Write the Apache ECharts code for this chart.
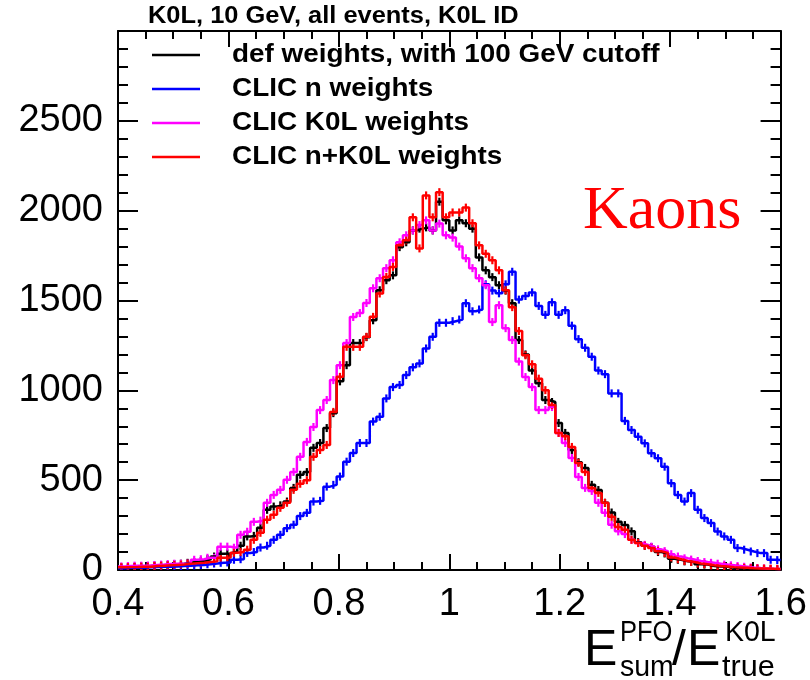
<!DOCTYPE html>
<html>
<head>
<meta charset="utf-8">
<script src="https://cdn.jsdelivr.net/npm/echarts@6/dist/echarts.min.js"></script>
<style>
html,body{margin:0;padding:0;background:#fff;}
#chart{width:810px;height:680px;}
</style>
</head>
<body>
<div id="chart"></div>
<script>
// Histogram: 100 bins of width 0.012 from 0.4 to 1.6
const binStart = 0.4;
const binWidth = 0.012;

const xTicks = [0.4, 0.6, 0.8, 1, 1.2, 1.4, 1.6];
const yTicks = [0, 500, 1000, 1500, 2000, 2500];

const seriesNames = [
  'def weights, with 100 GeV cutoff',
  'CLIC n weights',
  'CLIC K0L weights',
  'CLIC n+K0L weights'
];

// black: def weights
const defWeights = [
  15, 16, 18, 20, 22, 24, 26, 28, 32, 35,
  40, 45, 50, 60, 75, 90, 92, 103, 135, 187,
  190, 235, 335, 353, 360, 381, 457, 530, 545, 680,
  707, 790, 873, 1050, 1140, 1263, 1263, 1296, 1390, 1557,
  1613, 1640, 1797, 1824, 1890, 1900, 1907, 1890, 2050, 1946,
  1890, 1946, 1930, 1900, 1740, 1668, 1630, 1585, 1555, 1485,
  1280, 1200, 1110, 1040, 946, 935, 818, 763, 668, 600,
  568, 474, 445, 374, 320, 268, 250, 215, 155, 135,
  128, 100, 92, 62, 57, 48, 45, 32, 30, 22,
  20, 18, 12, 10, 8, 7, 5, 4, 4, 3
];

// blue: CLIC n weights
const nWeights = [
  10, 12, 12, 13, 15, 16, 18, 18, 20, 22,
  24, 26, 28, 32, 36, 40, 42, 57, 60, 95,
  100, 125, 135, 168, 196, 233, 252, 300, 318, 381,
  385, 464, 474, 520, 603, 651, 707, 707, 826, 853,
  955, 1018, 1030, 1085, 1128, 1150, 1233, 1298, 1376, 1376,
  1385, 1394, 1485, 1440, 1450, 1590, 1555, 1540, 1590, 1660,
  1505, 1525, 1545, 1470, 1420, 1490, 1420, 1446, 1360, 1285,
  1237, 1187, 1110, 1090, 983, 983, 830, 779, 742, 705,
  650, 622, 575, 483, 418, 381, 428, 335, 289, 261,
  214, 187, 168, 122, 113, 103, 94, 94, 57, 55
];

// magenta: CLIC K0L weights
const k0lWeights = [
  20, 22, 24, 24, 25, 28, 30, 33, 35, 35,
  36, 57, 60, 68, 68, 130, 130, 124, 196, 213,
  268, 275, 374, 418, 446, 502, 546, 630, 713, 796,
  890, 946, 1057, 1140, 1263, 1408, 1430, 1486, 1568, 1624,
  1680, 1724, 1824, 1863, 1890, 1920, 1946, 1890, 1928, 1863,
  1850, 1800, 1735, 1680, 1624, 1585, 1380, 1474, 1346, 1280,
  1160, 1074, 1018, 890, 890, 907, 763, 707, 624, 518,
  457, 440, 374, 318, 252, 215, 200, 168, 150, 140,
  130, 115, 105, 88, 75, 65, 58, 50, 44, 40,
  35, 30, 26, 22, 18, 14, 11, 9, 7, 6
];

// red: CLIC n+K0L weights
const nk0lWeights = [
  15, 16, 17, 18, 18, 22, 24, 26, 28, 30,
  35, 38, 40, 45, 48, 68, 70, 96, 100, 113,
  168, 207, 280, 307, 346, 374, 446, 480, 500, 630,
  668, 696, 880, 1075, 1242, 1242, 1242, 1298, 1409, 1539,
  1631, 1687, 1807, 1835, 1963, 1790, 2085, 1963, 2103, 1963,
  1990, 1990, 2017, 1930, 1807, 1760, 1724, 1668, 1557, 1463,
  1330, 1195, 1145, 1065, 1001, 918, 763, 745, 685, 596,
  546, 457, 429, 374, 296, 240, 224, 168, 150, 135,
  122, 105, 95, 70, 60, 50, 45, 36, 32, 26,
  22, 20, 16, 14, 12, 10, 9, 8, 7, 6
];

const colors = ['#000000', '#0000ff', '#ff00ff', '#ff0000'];
const allSeries = [defWeights, nWeights, k0lWeights, nk0lWeights];

function stepData(vals) {
  const d = vals.map((v, i) => [binStart + binWidth * i, v]);
  d.push([binStart + binWidth * vals.length, vals[vals.length - 1]]);
  return d;
}
function centerData(vals) {
  return vals.map((v, i) => [binStart + binWidth * (i + 0.5), v]);
}

const series = [];
allSeries.forEach((vals, si) => {
  series.push({
    name: seriesNames[si],
    type: 'line',
    step: 'end',
    data: stepData(vals),
    symbol: 'none',
    lineStyle: { color: colors[si], width: 2.5 },
    clip: true,
    animation: false,
    silent: true
  });
  series.push({
    type: 'custom',
    data: centerData(vals),
    clip: true,
    animation: false,
    silent: true,
    encode: { x: 0, y: 1 },
    renderItem: function (params, api) {
      const p = api.coord([api.value(0), api.value(1)]);
      return {
        type: 'line',
        shape: { x1: p[0], y1: p[1] - 4, x2: p[0], y2: p[1] + 4 },
        style: { stroke: colors[si], lineWidth: 2.2 }
      };
    }
  });
});

const FONT = '"Liberation Sans", Arial, Helvetica, sans-serif';

function fmtX(v) { return String(Math.round(v * 10) / 10); }

const axisLineStyle = { color: '#000', width: 2 };
const tickStyle = { color: '#000', width: 2 };

const option = {
  animation: false,
  backgroundColor: '#ffffff',
  grid: { left: 118, right: 28, top: 31, bottom: 110, containLabel: false },
  xAxis: [
    {
      type: 'value', min: 0.4, max: 1.6, interval: 0.2, position: 'bottom',
      axisLine: { show: true, onZero: false, lineStyle: axisLineStyle },
      axisTick: { show: true, inside: true, length: 16, lineStyle: tickStyle },
      minorTick: { show: true, splitNumber: 4, length: 8, lineStyle: tickStyle },
      axisLabel: {
        show: true, fontSize: 38, color: '#000', fontFamily: FONT, margin: 16,
        formatter: function (v) { return xTicks.indexOf(Math.round(v * 10) / 10) >= 0 ? fmtX(v) : ''; }
      },
      splitLine: { show: false }
    },
    {
      type: 'value', min: 0.4, max: 1.6, interval: 0.2, position: 'top',
      axisLine: { show: true, onZero: false, lineStyle: axisLineStyle },
      axisTick: { show: true, inside: true, length: 16, lineStyle: tickStyle },
      minorTick: { show: true, splitNumber: 4, length: 8, lineStyle: tickStyle },
      axisLabel: { show: false },
      splitLine: { show: false }
    }
  ],
  yAxis: [
    {
      type: 'value', min: 0, max: 3000, interval: 500, position: 'left',
      axisLine: { show: true, onZero: false, lineStyle: axisLineStyle },
      axisTick: { show: true, inside: true, length: 20, lineStyle: tickStyle },
      minorTick: { show: true, splitNumber: 5, length: 10, lineStyle: tickStyle },
      axisLabel: {
        show: true, fontSize: 38, color: '#000', fontFamily: FONT, margin: 15,
        showMaxLabel: false,
        formatter: function (v) { return yTicks.indexOf(Math.round(v)) >= 0 ? String(Math.round(v)) : ''; }
      },
      splitLine: { show: false }
    },
    {
      type: 'value', min: 0, max: 3000, interval: 500, position: 'right',
      axisLine: { show: true, onZero: false, lineStyle: axisLineStyle },
      axisTick: { show: true, inside: true, length: 20, lineStyle: tickStyle },
      minorTick: { show: true, splitNumber: 5, length: 10, lineStyle: tickStyle },
      axisLabel: { show: false },
      splitLine: { show: false }
    }
  ],
  series: series,
  graphic: []
};

function txt(text, x, y, font, fill, scaleX) {
  return {
    type: 'text', x: x, y: y, scaleX: scaleX || 1, z: 100,
    style: { text: text, fill: fill || '#000', font: font, textVerticalAlign: 'middle', verticalAlign: 'middle', textAlign: 'left', align: 'left' }
  };
}

// Title
option.graphic.push(txt('K0L, 10 GeV, all events, K0L ID', 148, 17, 'bold 23px ' + FONT, '#000', 1.105));

// Legend
const legendRows = [56, 90, 124, 158];
seriesNames.forEach((name, i) => {
  option.graphic.push({
    type: 'line', z: 100,
    shape: { x1: 152, y1: legendRows[i] - 1, x2: 200, y2: legendRows[i] - 1 },
    style: { stroke: colors[i], lineWidth: 2.5 }
  });
  option.graphic.push(txt(name, 232, legendRows[i] - 1, 'bold 25px ' + FONT, '#000', 1.115));
});

// Kaons label
option.graphic.push(txt('Kaons', 583, 212, '62px "Liberation Serif", "Times New Roman", serif', '#ff0000', 1));

// X axis title: E^{PFO}_{sum}/E^{K0L}_{true}
const axisTitleParts = [
  { t: 'E', x: 584, y: 651, s: 50, k: 1 },
  { t: 'PFO', x: 620, y: 633, s: 30, k: 0.85 },
  { t: 'sum', x: 620, y: 668, s: 30, k: 0.95 },
  { t: '/', x: 672, y: 651, s: 50, k: 1 },
  { t: 'E', x: 687, y: 651, s: 50, k: 1 },
  { t: 'K0L', x: 725, y: 633, s: 30, k: 0.95 },
  { t: 'true', x: 722, y: 668, s: 30, k: 1.02 }
];
axisTitleParts.forEach(p => {
  option.graphic.push(txt(p.t, p.x, p.y, p.s + 'px ' + FONT, '#000', p.k));
});

const chart = echarts.init(document.getElementById('chart'), null, { renderer: 'canvas' });
chart.setOption(option);
</script>
</body>
</html>
